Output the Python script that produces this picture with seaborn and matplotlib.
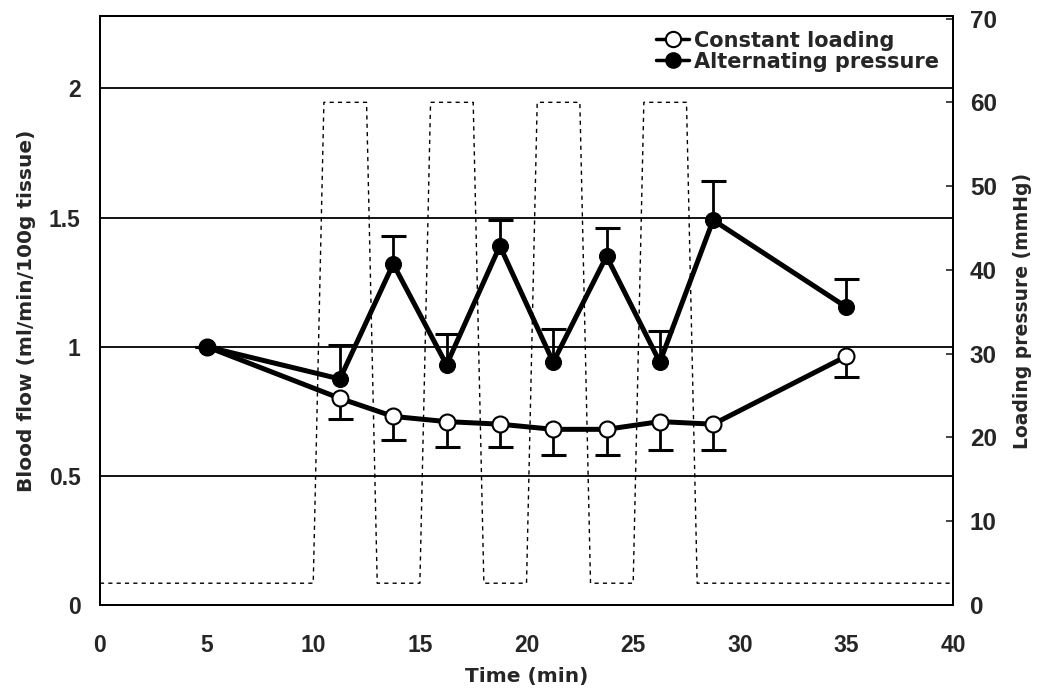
import numpy as np
import pandas as pd
import matplotlib
matplotlib.use("Agg")
import matplotlib.pyplot as plt
import seaborn as sns
from matplotlib.lines import Line2D

# Sampling times (min)
time_min = [5, 11.25, 13.75, 16.25, 18.75, 21.25, 23.75, 26.25, 28.75, 35]

# Normalised blood flow and SD
constant_flow = [1.00, 0.80, 0.73, 0.71, 0.70, 0.68, 0.68, 0.71, 0.70, 0.963]
constant_err = [0.00, 0.08, 0.09, 0.10, 0.09, 0.10, 0.10, 0.11, 0.10, 0.08]
alternating_flow = [1.00, 0.875, 1.32, 0.93, 1.39, 0.94, 1.35, 0.94, 1.49, 1.153]
alternating_err = [0.00, 0.13, 0.11, 0.12, 0.10, 0.13, 0.11, 0.12, 0.15, 0.11]

# Applied loading pressure profile (mmHg)
pressure_time = [0, 10, 10.5, 12.5, 13, 15, 15.5, 17.5, 18, 20, 20.5, 22.5, 23, 25, 25.5, 27.5, 28, 40]
pressure_mmhg = [2.6, 2.6, 60, 60, 2.6, 2.6, 60, 60, 2.6, 2.6, 60, 60, 2.6, 2.6, 60, 60, 2.6, 2.6]

x_ticks = [0, 5, 10, 15, 20, 25, 30, 35, 40]
left_ticks = [0, 0.5, 1, 1.5, 2]
left_tick_labels = ["0", "0.5", "1", "1.5", "2"]
right_ticks = [0, 10, 20, 30, 40, 50, 60, 70]

sns.set_style("white")
plt.rcParams["font.family"] = ["Liberation Sans", "DejaVu Sans"]
plt.rcParams["font.weight"] = "bold"
label_font = {"family": ["DejaVu Sans"], "weight": "bold"}

fig = plt.figure(figsize=(10.52, 6.97), dpi=100)
ax = fig.add_axes([0.095, 0.132, 0.811, 0.845])
ax2 = ax.twinx()

# Pressure profile on the secondary axis (behind the flow data)
ax.set_zorder(ax2.get_zorder() + 1)
ax.patch.set_visible(False)
pdf = pd.DataFrame({"t": pressure_time, "p": pressure_mmhg})
sns.lineplot(data=pdf, x="t", y="p", ax=ax2, color="black", lw=1.0,
             linestyle=(0, (3, 3)), sort=False, estimator=None)
ax2.set_ylim(0, 70.3)
ax2.set_yticks(right_ticks)
ax2.set_ylabel("Loading pressure (mmHg)", fontdict=dict(label_font, size=13.5), labelpad=12)
ax2.tick_params(axis="y", direction="in", length=5, width=1.2, labelsize=17.5, pad=12)

# Horizontal reference lines
for yv in [0.5, 1, 1.5, 2]:
    ax.axhline(yv, color="black", lw=1.3, zorder=0)

df = pd.DataFrame({
    "t": time_min * 2,
    "flow": constant_flow + alternating_flow,
    "group": ["Constant loading"] * len(time_min) + ["Alternating pressure"] * len(time_min),
})


def one_sided_errorbar(x, y, err, upward):
    """Draw SD bars on one side only and hide the cap on the marker side."""
    zeros = [0] * len(err)
    yerr = [zeros, err] if upward else [err, zeros]
    cont = ax.errorbar(x, y, yerr=yerr, fmt="none", ecolor="black", elinewidth=2.0,
                       capsize=9, capthick=2.2, zorder=2)
    for cap in cont[1]:
        if np.allclose(np.asarray(cap.get_ydata(), float), np.asarray(y, float)):
            cap.set_visible(False)


one_sided_errorbar(time_min, constant_flow, constant_err, upward=False)
one_sided_errorbar(time_min, alternating_flow, alternating_err, upward=True)

sns.lineplot(data=df[df.group == "Constant loading"], x="t", y="flow", ax=ax,
             color="black", lw=3.6, marker="o", markersize=11.5, markerfacecolor="white",
             markeredgecolor="black", markeredgewidth=1.5, zorder=3, legend=False)
sns.lineplot(data=df[df.group == "Alternating pressure"], x="t", y="flow", ax=ax,
             color="black", lw=3.6, marker="o", markersize=11.5, markerfacecolor="black",
             markeredgecolor="black", zorder=4, legend=False)

ax.set_xlim(0, 40)
ax.set_ylim(0, 2.28)
ax.set_xticks(x_ticks)
ax.set_yticks(left_ticks)
ax.set_yticklabels(left_tick_labels)
ax.tick_params(axis="x", direction="in", length=6, width=1.2, labelsize=16.5, pad=21)
ax.tick_params(axis="y", direction="in", length=0, labelsize=16.5, pad=14)
ax.set_xlabel("Time (min)", fontdict=dict(label_font, size=14.5), labelpad=7)
ax.set_ylabel("Blood flow (ml/min/100g tissue)", fontdict=dict(label_font, size=14.5), labelpad=9)

for a in (ax, ax2):
    for s in a.spines.values():
        s.set_color("black")
        s.set_linewidth(1.4)

handles = [
    Line2D([0], [0], color="black", lw=2.5, marker="o", markersize=11,
           markerfacecolor="white", markeredgecolor="black", markeredgewidth=1.5),
    Line2D([0], [0], color="black", lw=2.5, marker="o", markersize=11,
           markerfacecolor="black", markeredgecolor="black"),
]
ax.legend(handles, ["Constant loading", "Alternating pressure"], loc="upper right",
          frameon=False, handlelength=1.6, handletextpad=0.2,
          borderaxespad=0.3, labelspacing=0.05,
          prop={"family": ["DejaVu Sans"], "weight": "bold", "size": 15})

fig.savefig("out.png", dpi=100)
